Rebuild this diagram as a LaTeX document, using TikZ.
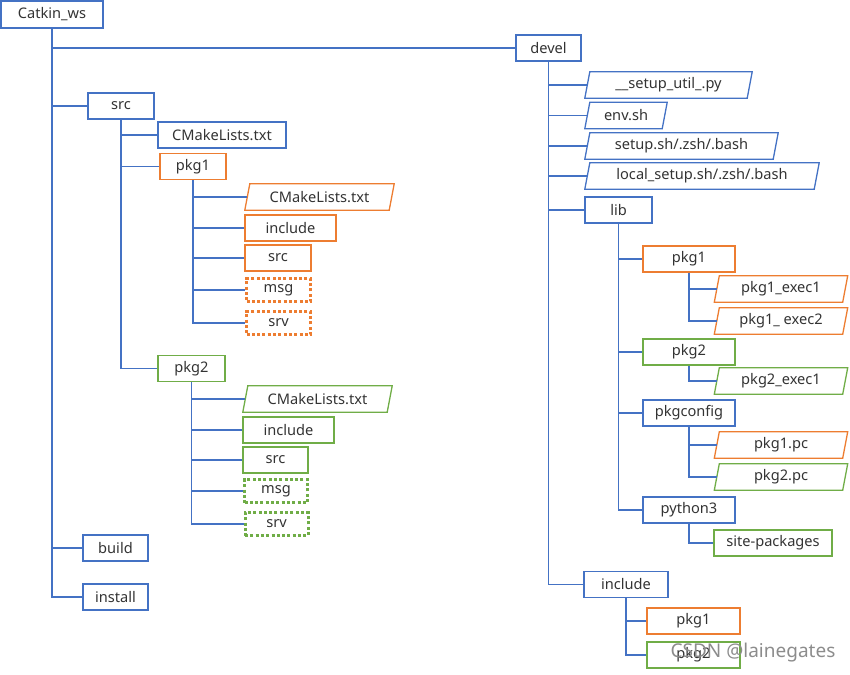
\documentclass[tikz,border=0pt]{standalone}
\usepackage{fontspec}
\setmainfont{Noto Sans}
\usetikzlibrary{calc}

\begin{document}
\begin{tikzpicture}[
    x=1pt, y=-1pt,
    every node/.style={font=\fontsize{14.6}{16}\selectfont, text=textgray, inner sep=0pt, minimum height=26pt},
    dirbox/.style={draw=#1, line width=1.3pt},
    dotbox/.style={draw=#1, line width=3pt, dash pattern=on 3pt off 2.3pt, minimum height=23pt},
    branch/.style={draw=treeblue, line width=1.4pt},
  ]
    \definecolor{treeblue}{HTML}{4472C4}
    \definecolor{catorange}{HTML}{ED7D31}
    \definecolor{catgreen}{HTML}{70AD47}
    \definecolor{textgray}{HTML}{333333}
    \definecolor{markgray}{HTML}{8C8C8C}

    \newcommand{\slantbox}[2]{%
      \draw[#2, line width=1.3pt] ($(#1.south west)+(-2.5,0)$) -- ($(#1.north west)+(2.5,0)$)
        -- ($(#1.north east)+(2.5,0)$) -- ($(#1.south east)+(-2.5,0)$) -- cycle;
    }

    \useasboundingbox (0,0) rectangle (850,674);

    % ============ workspace and src ============
    \node[dirbox=treeblue, minimum width=102pt, minimum height=27pt] (ws) at (52,14.5) {Catkin\_ws};
    \node[dirbox=treeblue, minimum width=66pt] (src) at (121,106) {src};
    \node[dirbox=treeblue, minimum width=128pt] (srccml) at (222,135) {CMakeLists.txt};
    \node[dirbox=treeblue, minimum width=65pt] (build) at (115.5,548) {build};
    \node[dirbox=treeblue, minimum width=65pt] (install) at (115.5,597) {install};

    % pkg1 in src
    \node[dirbox=catorange, minimum width=66pt] (pkga) at (193,166.5) {pkg1};
    \node[minimum width=144pt] (pkgacml) at (319.5,197) {CMakeLists.txt};
    \slantbox{pkgacml}{catorange}
    \node[dirbox=catorange, minimum width=91pt] (pkgainc) at (290.5,228) {include};
    \node[dirbox=catorange, minimum width=66pt] (pkgasrc) at (278,258) {src};
    \node[dotbox=catorange, minimum width=64pt] (pkgamsg) at (278.5,290) {msg};
    \node[dotbox=catorange, minimum width=64pt] (pkgasrv) at (278.5,323) {srv};

    % pkg2 in src
    \node[dirbox=catgreen, minimum width=67pt] (pkgb) at (191.5,368.5) {pkg2};
    \node[minimum width=144pt] (pkgbcml) at (317.5,399) {CMakeLists.txt};
    \slantbox{pkgbcml}{catgreen}
    \node[dirbox=catgreen, minimum width=91pt] (pkgbinc) at (288.5,430) {include};
    \node[dirbox=catgreen, minimum width=65pt] (pkgbsrc) at (275.5,460) {src};
    \node[dotbox=catgreen, minimum width=63pt] (pkgbmsg) at (276,491) {msg};
    \node[dotbox=catgreen, minimum width=63pt] (pkgbsrv) at (276.5,524) {srv};

    % ============ devel ============
    \node[dirbox=treeblue, minimum width=65pt] (devel) at (548.5,48) {devel};
    \node[minimum width=162pt] (setuputil) at (668.5,85) {\_\_setup\_util\_.py};
    \slantbox{setuputil}{treeblue}
    \node[minimum width=77pt] (envsh) at (626,115.5) {env.sh};
    \slantbox{envsh}{treeblue}
    \node[minimum width=188pt] (setupsh) at (681.5,146) {setup.sh/.zsh/.bash};
    \slantbox{setupsh}{treeblue}
    \node[minimum width=229pt] (localsh) at (702,176) {local\_setup.sh/.zsh/.bash};
    \slantbox{localsh}{treeblue}
    \node[dirbox=treeblue, minimum width=67pt] (lib) at (618.5,210) {lib};

    % lib contents
    \node[dirbox=catorange, minimum width=92pt] (liba) at (689,259) {pkg1};
    \node[minimum width=128pt] (libaexa) at (781,289) {pkg1\_exec1};
    \slantbox{libaexa}{catorange}
    \node[minimum width=128pt] (libaexb) at (781,321) {pkg1\_ exec2};
    \slantbox{libaexb}{catorange}
    \node[dirbox=catgreen, minimum width=92pt] (libb) at (689,352) {pkg2};
    \node[minimum width=128pt] (libbexa) at (781,381) {pkg2\_exec1};
    \slantbox{libbexa}{catgreen}
    \node[dirbox=treeblue, minimum width=92pt] (pkgconfig) at (689,413) {pkgconfig};
    \node[minimum width=128pt] (pca) at (781,445) {pkg1.pc};
    \slantbox{pca}{catorange}
    \node[minimum width=128pt] (pcb) at (781,477) {pkg2.pc};
    \slantbox{pcb}{catgreen}
    \node[dirbox=treeblue, minimum width=92pt] (python) at (689,510) {python3};
    \node[dirbox=catgreen, minimum width=118pt] (sitepk) at (773,543) {site-packages};

    % devel include
    \node[dirbox=treeblue, minimum width=84pt] (dinc) at (626,584.5) {include};
    \node[dirbox=catorange, minimum width=93pt] (dinca) at (693.5,621) {pkg1};
    \node[dirbox=catgreen, minimum width=93pt] (dincb) at (693.5,655) {pkg2};

    % ============ branches ============
    \foreach \c in {devel,src,build,install}
      \draw[branch] (ws.south) |- (\c.west);
    \foreach \c in {srccml,pkga,pkgb}
      \draw[branch] (src.south) |- (\c.west);
    \foreach \c in {pkgacml,pkgainc,pkgasrc,pkgamsg,pkgasrv}
      \draw[branch] (pkga.south) |- (\c.west);
    \foreach \c in {pkgbcml,pkgbinc,pkgbsrc,pkgbmsg,pkgbsrv}
      \draw[branch] (pkgb.south) |- (\c.west);
    \foreach \c in {setuputil,envsh,setupsh,localsh,lib,dinc}
      \draw[branch] (devel.south) |- (\c.west);
    \foreach \c in {liba,libb,pkgconfig,python}
      \draw[branch] (lib.south) |- (\c.west);
    \foreach \c in {libaexa,libaexb}
      \draw[branch] (liba.south) |- (\c.west);
    \draw[branch] (libb.south) |- (libbexa.west);
    \foreach \c in {pca,pcb}
      \draw[branch] (pkgconfig.south) |- (\c.west);
    \draw[branch] (python.south) |- (sitepk.west);
    \foreach \c in {dinca,dincb}
      \draw[branch] (dinc.south) |- (\c.west);

    \node[text=markgray, font=\fontsize{19}{22}\selectfont, minimum height=0pt] (mark) at (753,653) {CSDN @lainegates};
  \end{tikzpicture}
\end{document}
